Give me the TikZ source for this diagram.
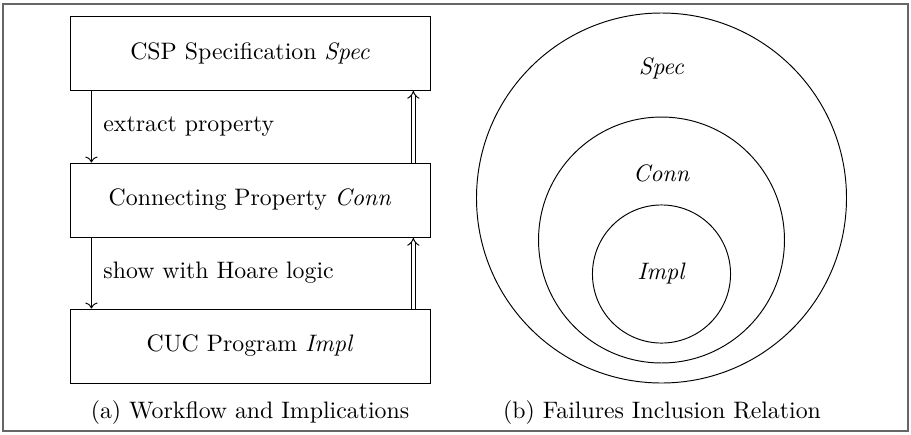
\documentclass[tikz,border=0pt]{standalone}
\usepackage{amsmath}
\usepackage{amssymb}
\usetikzlibrary{arrows.meta}

\tikzset{
  stepbox/.style={draw, rectangle, minimum width=151.2pt, minimum height=31.1pt, inner sep=0pt},
  setcirc/.style={draw, circle, inner sep=0pt},
  implarrow/.style={double, double distance=1.4pt, -{Implies}}
}

\begin{document}
\begin{tikzpicture}[x=0.42pt, y=-0.42pt]
    % Frame
    \useasboundingbox (0,0) rectangle (911,434);
    \draw[gray!80!black, line width=0.8pt] (3,4) rectangle (908,431);

    % Workflow boxes
    \node[stepbox] (spec) at (250,53) {CSP Specification \textit{Spec}};
    \node[stepbox] (conn) at (250,200) {Connecting Property \textit{Conn}};
    \node[stepbox] (impl) at (250,346) {CUC Program \textit{Impl}};

    % Downward steps
    \draw[->] ([xshift=9.2pt]spec.south west) -- ([xshift=9.2pt]conn.north west)
        node[midway, right=1.5pt] {extract property};
    \draw[->] ([xshift=9.2pt]conn.south west) -- ([xshift=9.2pt]impl.north west)
        node[midway, right=1.5pt] {show with Hoare logic};

    % Implications
    \draw[implarrow] ([xshift=-7.2pt]conn.north east) -- ([xshift=-7.2pt]spec.south east);
    \draw[implarrow] ([xshift=-7.2pt]impl.north east) -- ([xshift=-7.2pt]conn.south east);

    % Nested failures sets
    \node[setcirc, minimum size=155.4pt] (specset) at (661.5,198) {};
    \node[setcirc, minimum size=103.3pt] (connset) at (661.5,240) {};
    \node[setcirc, minimum size=58pt] (implset) at (661.5,274) {};
    \node at (661.5,68) {\textit{Spec}};
    \node at (661.5,173) {\textit{Conn}};
    \node at (661.5,274) {\textit{Impl}};

    % Captions
    \node (capa) at (250,413) {(a) Workflow and Implications};
    \node (capb) at (662,413) {(b) Failures Inclusion Relation};
\end{tikzpicture}
\end{document}
